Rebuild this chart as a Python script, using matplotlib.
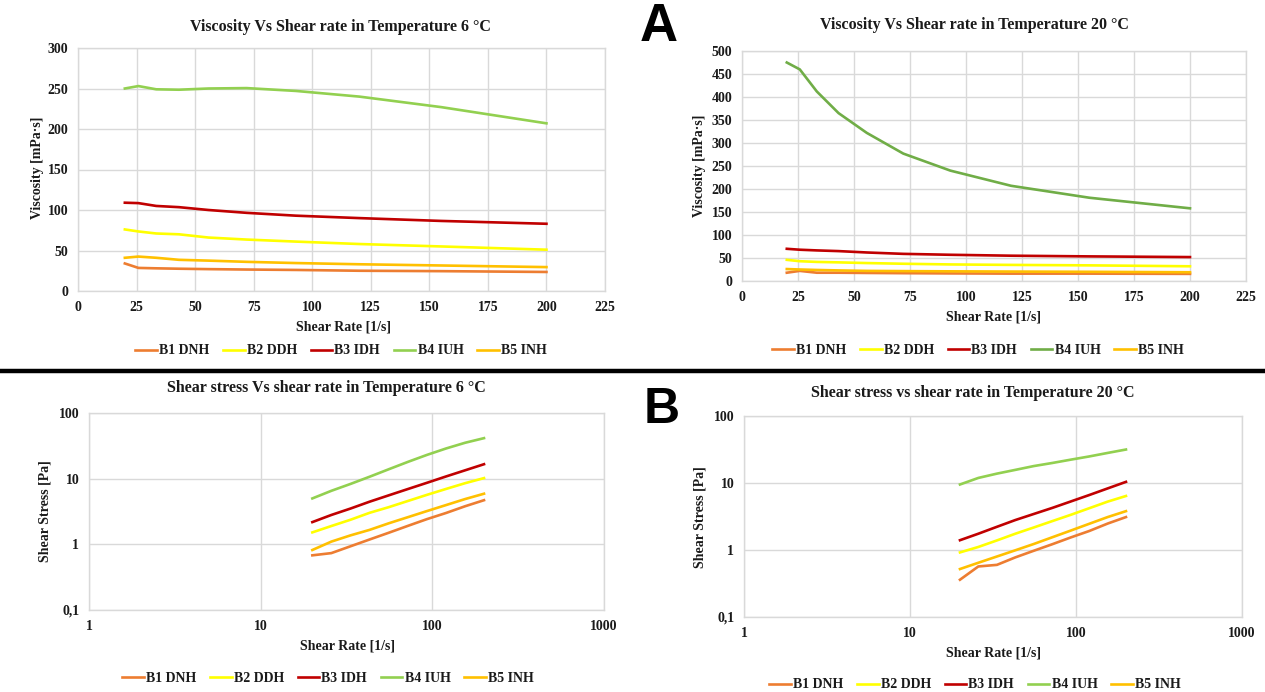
import matplotlib
matplotlib.use("Agg")
import matplotlib.pyplot as plt
from matplotlib.lines import Line2D
from matplotlib.ticker import FixedLocator, FixedFormatter, NullLocator

plt.rcParams['font.family'] = ['Liberation Serif', 'DejaVu Serif']
plt.rcParams['font.weight'] = 'bold'

# ---------------- data ----------------
series_names = ["B1 DNH", "B2 DDH", "B3 IDH", "B4 IUH", "B5 INH"]
shear_rate = [20, 25.8, 33.4, 43.1, 55.7, 72.0, 93.0, 120.1, 155.1, 200]

# Viscosity [mPa·s] at 6 °C
visc6_b1 = [34, 28.5, 28, 27.5, 27, 26.5, 26, 25, 24.5, 23.5]
visc6_b2 = [76, 73.5, 71, 70, 66, 63.5, 61, 58, 55, 51]
visc6_b3 = [109, 108.5, 105, 103.5, 100, 96.5, 93, 90, 86.5, 83]
visc6_b4 = [250, 253, 249, 248.5, 250, 250.5, 247, 240, 227, 207]
visc6_b5 = [41, 42.5, 41, 38.5, 37.5, 36, 34.5, 33, 31.5, 29.5]

# Viscosity [mPa·s] at 20 °C
visc20_b1 = [18, 22, 18, 18, 17.5, 17, 16.5, 16, 16, 15.5]
visc20_b2 = [46, 43, 41.5, 40.5, 39, 37.5, 36, 35, 34, 32]
visc20_b3 = [70, 68, 66.5, 65, 62, 59, 57, 55, 53.5, 52]
visc20_b4 = [475, 460, 412, 365, 322, 277, 240, 207, 181, 158]
visc20_b5 = [26, 25, 24, 23, 22, 21.5, 21, 20.5, 20, 19]

# Shear stress [Pa] at 6 °C
stress6_b1 = [0.68, 0.735, 0.935, 1.185, 1.50, 1.91, 2.42, 3.00, 3.80, 4.70]
stress6_b2 = [1.52, 1.90, 2.37, 3.02, 3.68, 4.57, 5.67, 6.97, 8.53, 10.2]
stress6_b3 = [2.18, 2.80, 3.51, 4.46, 5.57, 6.95, 8.65, 10.8, 13.4, 16.6]
stress6_b4 = [5.0, 6.53, 8.32, 10.7, 13.9, 18.0, 23.0, 28.8, 35.2, 41.4]
stress6_b5 = [0.82, 1.10, 1.37, 1.66, 2.09, 2.59, 3.21, 3.96, 4.89, 5.90]

# Shear stress [Pa] at 20 °C
stress20_b1 = [0.36, 0.568, 0.60, 0.776, 0.975, 1.22, 1.54, 1.92, 2.48, 3.10]
stress20_b2 = [0.92, 1.11, 1.39, 1.75, 2.17, 2.70, 3.35, 4.20, 5.27, 6.40]
stress20_b3 = [1.40, 1.75, 2.22, 2.80, 3.45, 4.25, 5.30, 6.61, 8.30, 10.4]
stress20_b4 = [9.5, 11.9, 13.8, 15.7, 17.9, 19.9, 22.3, 24.9, 28.1, 31.6]
stress20_b5 = [0.52, 0.645, 0.80, 0.99, 1.23, 1.55, 1.95, 2.46, 3.10, 3.80]

colors_top_left = ["#ED7D31", "#FFFF00", "#C00000", "#92D050", "#FFC000"]
colors_top_right = ["#ED7D31", "#FFFF00", "#C00000", "#70AD47", "#FFC000"]
colors_bottom = ["#ED7D31", "#FFFF00", "#C00000", "#92D050", "#FFC000"]

visc_ticks6 = [0, 50, 100, 150, 200, 250, 300]
visc_ticks20 = [0, 50, 100, 150, 200, 250, 300, 350, 400, 450, 500]
lin_xticks = [0, 25, 50, 75, 100, 125, 150, 175, 200, 225]
log_xticks = [1, 10, 100, 1000]
log_xlabels = ["1", "10", "100", "1000"]
log_yticks = [0.1, 1, 10, 100]
log_ylabels = ["0,1", "1", "10", "100"]

W, H = 1265, 692
fig = plt.figure(figsize=(W / 100, H / 100), dpi=100)

GRID = "#D9D9D9"
TXT = "#1A1A1A"


def add_axes(l, t, r, b):
    return fig.add_axes([l / W, 1 - b / H, (r - l) / W, (b - t) / H])


def style(ax):
    for s in ax.spines.values():
        s.set_color(GRID)
        s.set_linewidth(1.0)
    ax.tick_params(length=0, labelsize=10, colors=TXT, pad=7)
    for lab in ax.get_xticklabels() + ax.get_yticklabels():
        lab.set_fontweight('bold')
    ax.grid(True, color=GRID, linewidth=1.0)
    ax.set_axisbelow(True)


def ftext(x, y, s, size=11, rot=0, **kw):
    fig.text(x / W, 1 - y / H, s, ha='center', va='center', fontsize=size,
             fontweight='bold', rotation=rot, color=TXT, **kw)


def legend(ax, x, y):
    leg = ax.legend(loc='center', bbox_to_anchor=(x / W, 1 - y / H),
                    bbox_transform=fig.transFigure, ncol=5, frameon=False,
                    handlelength=1.55, handletextpad=0.15,
                    columnspacing=1.0, prop={'weight': 'bold', 'size': 10})
    for t in leg.get_texts():
        t.set_color(TXT)


# ---- top left ----
ax1 = add_axes(78, 48, 605, 291)
for name, ys, c in zip(series_names,
                       [visc6_b1, visc6_b2, visc6_b3, visc6_b4, visc6_b5],
                       colors_top_left):
    ax1.plot(shear_rate, ys, color=c, lw=1.9, label=name)
ax1.set_xlim(0, 225)
ax1.set_ylim(0, 300)
ax1.set_xticks(lin_xticks)
ax1.set_yticks(visc_ticks6)
style(ax1)
legend(ax1, 341, 351)
ftext(340, 27, "Viscosity Vs Shear rate in Temperature 6 °C", size=11.5)
ftext(343, 327, "Shear Rate [1/s]", size=10)
ftext(37, 168, "Viscosity [mPa·s]", size=10, rot=90)

# ---- top right ----
ax2 = add_axes(742, 51, 1246, 281)
for name, ys, c in zip(series_names,
                       [visc20_b1, visc20_b2, visc20_b3, visc20_b4, visc20_b5],
                       colors_top_right):
    ax2.plot(shear_rate, ys, color=c, lw=1.9, label=name)
ax2.set_xlim(0, 225)
ax2.set_ylim(0, 500)
ax2.set_xticks(lin_xticks)
ax2.set_yticks(visc_ticks20)
style(ax2)
legend(ax2, 978, 350)
ftext(974, 25, "Viscosity Vs Shear rate in Temperature 20 °C", size=11.5)
ftext(994, 317, "Shear Rate [1/s]", size=10)
ftext(700, 166, "Viscosity [mPa·s]", size=10, rot=90)


def log_axes(ax):
    ax.set_xscale('log')
    ax.set_yscale('log')
    ax.set_xlim(1, 1000)
    ax.set_ylim(0.1, 100)
    ax.xaxis.set_major_locator(FixedLocator(log_xticks))
    ax.xaxis.set_major_formatter(FixedFormatter(log_xlabels))
    ax.yaxis.set_major_locator(FixedLocator(log_yticks))
    ax.yaxis.set_major_formatter(FixedFormatter(log_ylabels))
    ax.xaxis.set_minor_locator(NullLocator())
    ax.yaxis.set_minor_locator(NullLocator())


# ---- bottom left ----
ax3 = add_axes(89, 413, 604, 610)
for name, ys, c in zip(series_names,
                       [stress6_b1, stress6_b2, stress6_b3, stress6_b4, stress6_b5],
                       colors_bottom):
    ax3.plot(shear_rate, ys, color=c, lw=1.9, label=name)
log_axes(ax3)
style(ax3)
legend(ax3, 328, 678)
ftext(326, 388, "Shear stress Vs shear rate in Temperature 6 °C", size=11.5)
ftext(347, 646, "Shear Rate [1/s]", size=10)
ftext(45, 511, "Shear Stress [Pa]", size=10, rot=90)

# ---- bottom right ----
ax4 = add_axes(744, 416, 1242, 617)
for name, ys, c in zip(series_names,
                       [stress20_b1, stress20_b2, stress20_b3, stress20_b4, stress20_b5],
                       colors_bottom):
    ax4.plot(shear_rate, ys, color=c, lw=1.9, label=name)
log_axes(ax4)
style(ax4)
legend(ax4, 975, 685)
ftext(973, 393, "Shear stress vs shear rate in Temperature 20 °C", size=11.5)
ftext(994, 653, "Shear Rate [1/s]", size=10)
ftext(700, 517, "Shear Stress [Pa]", size=10, rot=90)

# separator and panel letters
fig.add_artist(Line2D([0, 1], [1 - 371 / H, 1 - 371 / H], color='black',
                      lw=3.2, transform=fig.transFigure))
fig.text(659 / W, 1 - 27 / H, "A", ha='center', va='center', fontsize=38,
         fontweight='bold', family='Liberation Sans', color='black')
fig.text(662 / W, 1 - 410 / H, "B", ha='center', va='center', fontsize=36,
         fontweight='bold', family='Liberation Sans', color='black')

fig.savefig("out.png", dpi=100)
